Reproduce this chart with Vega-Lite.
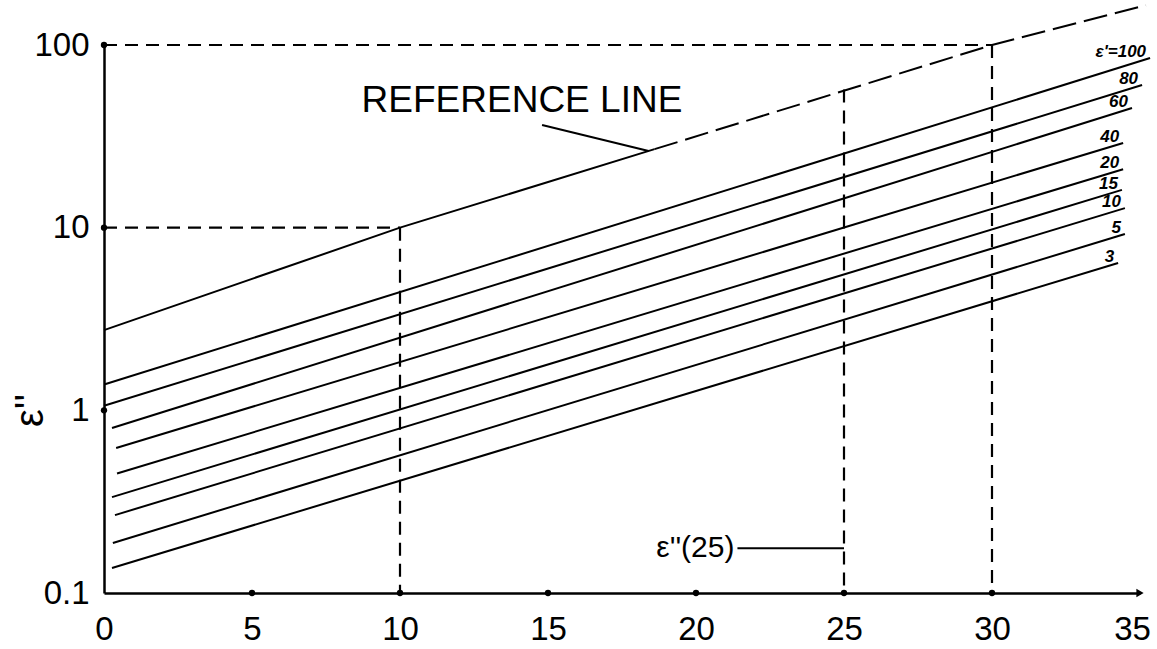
{
  "$schema": "https://vega.github.io/schema/vega-lite/v6.json",
  "width": 1036,
  "height": 548,
  "autosize": {"type": "none"},
  "padding": {"left": 104, "top": 45, "right": 17, "bottom": 56},
  "background": "white",
  "config": {"view": {"stroke": null}, "font": "Liberation Sans"},
  "datasets": {
    "curves": [
      {"series": "100", "x": 0.03, "v": 1.39}, {"series": "100", "x": 35.34, "v": 84.9},
      {"series": "80", "x": 0.0, "v": 1.06}, {"series": "80", "x": 35.07, "v": 60.4},
      {"series": "60", "x": 0.27, "v": 0.8}, {"series": "60", "x": 34.73, "v": 45.2},
      {"series": "40", "x": 0.41, "v": 0.622}, {"series": "40", "x": 34.43, "v": 29.1},
      {"series": "20", "x": 0.44, "v": 0.451}, {"series": "20", "x": 34.43, "v": 20.9},
      {"series": "15", "x": 0.27, "v": 0.335}, {"series": "15", "x": 34.39, "v": 16.1},
      {"series": "10", "x": 0.37, "v": 0.267}, {"series": "10", "x": 34.49, "v": 12.8},
      {"series": "5", "x": 0.3, "v": 0.188}, {"series": "5", "x": 34.49, "v": 9.23},
      {"series": "3", "x": 0.27, "v": 0.137}, {"series": "3", "x": 34.26, "v": 6.4}
    ],
    "reference": [
      {"x": 0, "v": 2.75}, {"x": 10, "v": 10}, {"x": 18.6, "v": 26.9}, {"x": 30, "v": 100}, {"x": 35.2, "v": 165}
    ],
    "labels": [
      {"label": "ε'=100", "x": 35.34, "v": 84.9},
      {"label": "80", "x": 35.07, "v": 60.4},
      {"label": "60", "x": 34.73, "v": 45.2},
      {"label": "40", "x": 34.43, "v": 29.1},
      {"label": "20", "x": 34.43, "v": 20.9},
      {"label": "15", "x": 34.39, "v": 16.1},
      {"label": "10", "x": 34.49, "v": 12.8},
      {"label": "5", "x": 34.49, "v": 9.23},
      {"label": "3", "x": 34.26, "v": 6.4}
    ],
    "guides": [
      {"g": "h100", "x": 0, "v": 100}, {"g": "h100", "x": 30, "v": 100},
      {"g": "v30", "x": 30, "v": 100}, {"g": "v30", "x": 30, "v": 0.1},
      {"g": "h10", "x": 0, "v": 10}, {"g": "h10", "x": 10, "v": 10},
      {"g": "v10", "x": 10, "v": 10}, {"g": "v10", "x": 10, "v": 0.1},
      {"g": "v25", "x": 25, "v": 57}, {"g": "v25", "x": 25, "v": 0.1}
    ],
    "dots": [
      {"x": 0, "v": 100}, {"x": 0, "v": 10}, {"x": 0, "v": 1},
      {"x": 5, "v": 0.1}, {"x": 10, "v": 0.1}, {"x": 15, "v": 0.1},
      {"x": 20, "v": 0.1}, {"x": 25, "v": 0.1}, {"x": 30, "v": 0.1}
    ],
    "pointers": [
      {"p": "ref", "x": 14.8, "v": 36.5}, {"p": "ref", "x": 18.4, "v": 26.3},
      {"p": "e25", "x": 21.4, "v": 0.176}, {"p": "e25", "x": 25, "v": 0.176}
    ]
  },
  "encoding": {
    "x": {
      "field": "x", "type": "quantitative",
      "scale": {"domain": [0, 35], "nice": false, "zero": false},
      "axis": {
        "values": [0, 5, 10, 15, 20, 25, 30, 35], "title": null, "grid": false, "ticks": false,
        "domainColor": "black", "domainWidth": 2.5, "labelFontSize": 33, "labelColor": "black",
        "labelPadding": 20, "labelFlush": false, "labelFont": "Liberation Sans",
        "labelOffset": {"condition": {"test": "datum.value == 35", "value": -8}, "value": 0}
      }
    },
    "y": {
      "field": "v", "type": "quantitative",
      "scale": {"type": "log", "domain": [0.1, 100], "nice": false},
      "axis": {
        "values": [0.1, 1, 10, 100], "format": "~g", "grid": false, "ticks": false,
        "domainColor": "black", "domainWidth": 2.5, "labelFontSize": 33, "labelColor": "black",
        "labelPadding": 15, "labelFont": "Liberation Sans",
        "title": "ε''", "titleFontSize": 40, "titleFontWeight": "normal", "titleColor": "black",
        "titleX": -74, "titleY": 365, "titleAngle": -90, "titleAlign": "center", "titleBaseline": "middle"
      }
    }
  },
  "layer": [
    {
      "data": {"name": "guides"},
      "mark": {"type": "line", "color": "black", "strokeWidth": 2.2, "strokeDash": [13, 8]},
      "encoding": {"detail": {"field": "g"}}
    },
    {
      "data": {"name": "curves"},
      "mark": {"type": "line", "color": "black", "strokeWidth": 2},
      "encoding": {"detail": {"field": "series"}}
    },
    {
      "data": {"name": "reference"},
      "transform": [{"filter": "datum.x <= 18.6"}],
      "mark": {"type": "line", "color": "black", "strokeWidth": 2}
    },
    {
      "data": {"name": "reference"},
      "transform": [{"filter": "datum.x >= 18.6"}],
      "mark": {"type": "line", "color": "black", "strokeWidth": 2, "strokeDash": [24, 8]}
    },
    {
      "data": {"name": "pointers"},
      "mark": {"type": "line", "color": "black", "strokeWidth": 2},
      "encoding": {"detail": {"field": "p"}}
    },
    {
      "data": {"name": "dots"},
      "mark": {"type": "point", "filled": true, "color": "black", "size": 40, "opacity": 1}
    },
    {
      "data": {"values": [{"x": 35, "v": 0.1}]},
      "mark": {"type": "point", "shape": "triangle-right", "filled": true, "color": "black", "size": 70, "opacity": 1}
    },
    {
      "data": {"name": "labels"},
      "mark": {"type": "text", "align": "right", "baseline": "alphabetic", "dx": -4, "dy": -1, "fontSize": 17, "fontWeight": "bold", "fontStyle": "italic", "color": "black"},
      "encoding": {"text": {"field": "label"}}
    },
    {
      "data": {"values": [{"t": "REFERENCE LINE", "x": 14.12, "v": 49.3}]},
      "mark": {"type": "text", "align": "center", "baseline": "middle", "fontSize": 37, "color": "black"},
      "encoding": {"text": {"field": "t"}}
    },
    {
      "data": {"values": [{"t": "ε''(25)", "x": 21.3, "v": 0.176}]},
      "mark": {"type": "text", "align": "right", "baseline": "middle", "fontSize": 30, "color": "black"},
      "encoding": {"text": {"field": "t"}}
    }
  ]
}
